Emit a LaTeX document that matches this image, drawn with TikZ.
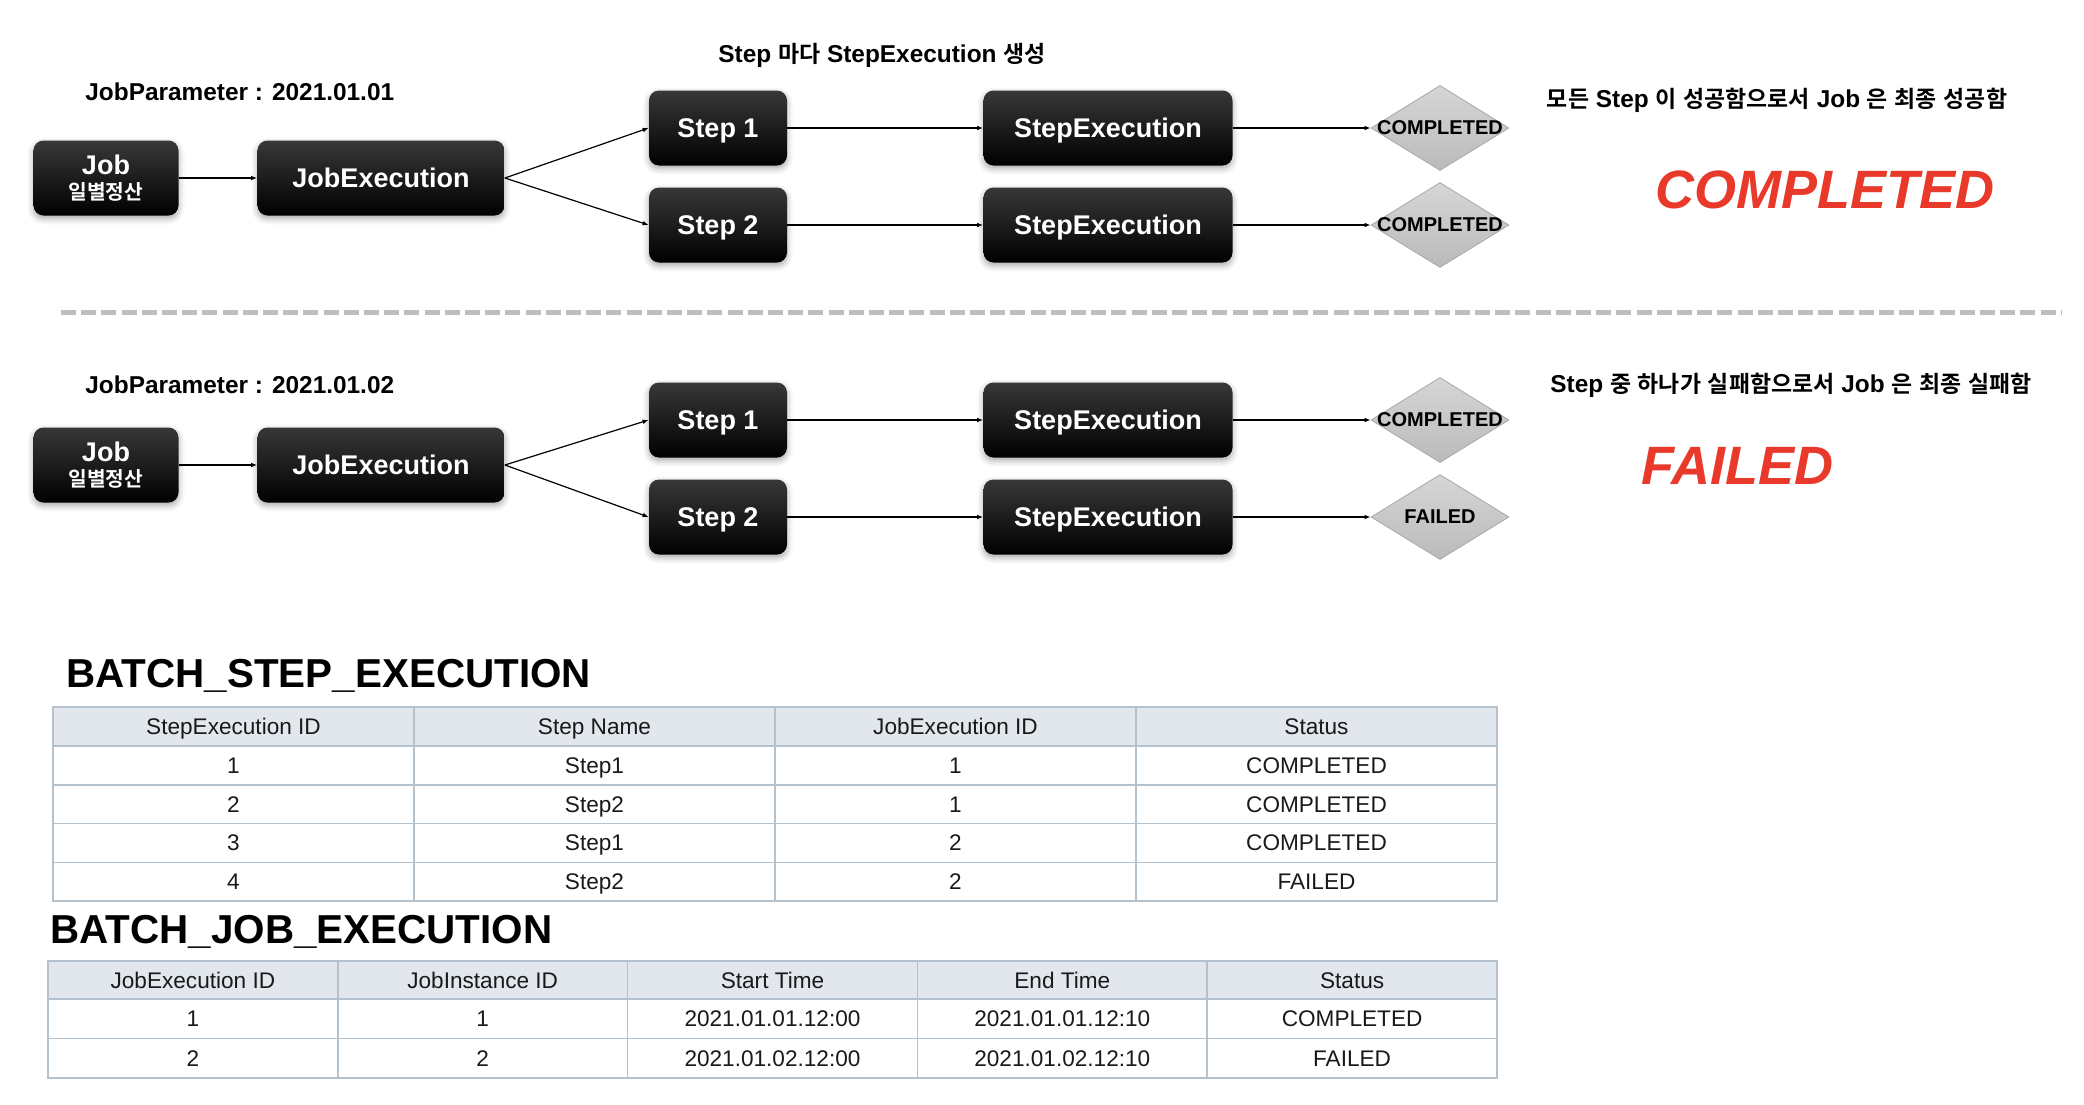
\documentclass[tikz,border=0pt]{standalone}
\usepackage{fontspec}
\setmainfont{Liberation Sans}
\newfontfamily\kr{Noto Sans CJK KR}[Scale=0.94,BoldFont={Noto Sans CJK KR Bold}]
\usetikzlibrary{arrows.meta}
\usetikzlibrary{shapes.geometric}
\usetikzlibrary{shadows.blur}

\definecolor{redtxt}{HTML}{E8392A}
\definecolor{hdrfill}{HTML}{E1E7EC}
\definecolor{gridline}{HTML}{B3C2CD}
\definecolor{sepgray}{HTML}{BEBEBE}
\definecolor{dmdline}{HTML}{A8A8A8}

\newcommand{\ko}[1]{{\kr\bfseries #1}}

\tikzset{
  blackbox/.style={rectangle, rounded corners=5pt, draw=none, inner sep=0pt,
    top color=black!78, middle color=black, bottom color=black, text=white,
    font=\bfseries\fontsize{13.5}{12.5}\selectfont, align=center,
    minimum height=37.5pt,
    blur shadow={shadow xshift=0pt, shadow yshift=-1.5pt, shadow blur radius=3pt, shadow opacity=35}},
  onebox/.style={blackbox, text height=9.7pt, text depth=0pt},
  statusdmd/.style={diamond, minimum width=69pt, minimum height=42.5pt, inner sep=0pt,
    draw=dmdline, line width=0.4pt, top color=black!16, bottom color=black!27,
    label={[font=\bfseries\fontsize{10}{12}\selectfont]center:#1}},
  caption/.style={font=\bfseries\fontsize{12.2}{14}\selectfont, inner sep=0pt},
  bigred/.style={font=\bfseries\itshape\fontsize{27}{30}\selectfont, text=redtxt, inner sep=0pt},
  tabletitle/.style={font=\bfseries\fontsize{20.2}{22}\selectfont, inner sep=0pt},
  cell/.style={font=\fontsize{11.3}{13}\selectfont, text=black!90, inner sep=0pt,
    text height=8.1pt, text depth=0pt},
  flow/.style={line width=0.6pt, -{Latex[length=3pt,width=2.4pt]}}
}

\begin{document}
\begin{tikzpicture}[x=0.5pt, y=-0.5pt]
  \useasboundingbox (0,0) rectangle (2084,1104);

  % Run 1
  \node[caption] (title) at (882,55) {Step \ko{마다} StepExecution \ko{생성}};
  \node[caption, anchor=west] (param1) at (85,92) {JobParameter : 2021.01.01};
  \node[blackbox, minimum width=72.5pt] (job1) at (106,178) {Job\\{\kr\fontsize{10.8}{10}\selectfont 일별정산}};
  \node[onebox, minimum width=123.5pt] (jexec1) at (381,178) {JobExecution};
  \node[onebox, minimum width=69pt] (step1a) at (718,128) {Step 1};
  \node[onebox, minimum width=69pt] (step1b) at (718,225) {Step 2};
  \node[onebox, minimum width=124.5pt] (sexec1a) at (1108,128) {StepExecution};
  \node[onebox, minimum width=124.5pt] (sexec1b) at (1108,225) {StepExecution};
  \node[statusdmd=COMPLETED] (stat1a) at (1440,128) {};
  \node[statusdmd=COMPLETED] (stat1b) at (1440,225) {};
  \node[caption] (note1) at (1777,100) {\ko{모든} Step \ko{이} \ko{성공함으로서} Job \ko{은} \ko{최종} \ko{성공함}};
  \node[bigred] (result1) at (1825,190) {COMPLETED};

  \draw[flow] (job1) -- (jexec1);
  \draw[flow] (jexec1.east) -- (step1a.west);
  \draw[flow] (jexec1.east) -- (step1b.west);
  \draw[flow] (step1a) -- (sexec1a);
  \draw[flow] (step1b) -- (sexec1b);
  \draw[flow] (sexec1a) -- (stat1a);
  \draw[flow] (sexec1b) -- (stat1b);

  % Separator
  \coordinate (sepl) at (61,312);
  \coordinate (sepr) at (2062,312);
  \draw[sepgray, line width=2.5pt, dash pattern=on 7.5pt off 2.6pt] (sepl) -- (sepr);

  % Run 2
  \node[caption, anchor=west] (param2) at (85,385) {JobParameter : 2021.01.02};
  \node[blackbox, minimum width=72.5pt] (job2) at (106,465) {Job\\{\kr\fontsize{10.8}{10}\selectfont 일별정산}};
  \node[onebox, minimum width=123.5pt] (jexec2) at (381,465) {JobExecution};
  \node[onebox, minimum width=69pt] (step2a) at (718,420) {Step 1};
  \node[onebox, minimum width=69pt] (step2b) at (718,517) {Step 2};
  \node[onebox, minimum width=124.5pt] (sexec2a) at (1108,420) {StepExecution};
  \node[onebox, minimum width=124.5pt] (sexec2b) at (1108,517) {StepExecution};
  \node[statusdmd=COMPLETED] (stat2a) at (1440,420) {};
  \node[statusdmd=FAILED] (stat2b) at (1440,517) {};
  \node[caption] (note2) at (1791,385) {Step \ko{중} \ko{하나가} \ko{실패함으로서} Job \ko{은} \ko{최종} \ko{실패함}};
  \node[bigred] (result2) at (1737,466) {FAILED};

  \draw[flow] (job2) -- (jexec2);
  \draw[flow] (jexec2.east) -- (step2a.west);
  \draw[flow] (jexec2.east) -- (step2b.west);
  \draw[flow] (step2a) -- (sexec2a);
  \draw[flow] (step2b) -- (sexec2b);
  \draw[flow] (sexec2a) -- (stat2a);
  \draw[flow] (sexec2b) -- (stat2b);

  % BATCH_STEP_EXECUTION
  \node[tabletitle, anchor=base west] (steptitle) at (66,687) {BATCH\_STEP\_EXECUTION};
  \fill[hdrfill] (53,707) rectangle (1497,746);
  \draw[gridline, line width=0.75pt] (53,707) rectangle (1497,901);
  \foreach \y in {746,784.75,823.5,862.25}
    \draw[gridline, line width=0.75pt] (53,\y) -- (1497,\y);
  \foreach \x in {414,775,1136}
    \draw[gridline, line width=0.75pt] (\x,707) -- (\x,901);
  \foreach \c/\t in {1/StepExecution ID, 2/Step Name, 3/JobExecution ID, 4/Status}
    \node[cell] (sh\c) at ({53+361*(\c-0.5)},726.5) {\t};
  \foreach \r/\a/\b/\c/\d in {1/1/Step1/1/COMPLETED, 2/2/Step2/1/COMPLETED, 3/3/Step1/2/COMPLETED, 4/4/Step2/2/FAILED} {
    \node[cell] (s\r-1) at (233.5,{746+38.75*(\r-0.5)}) {\a};
    \node[cell] (s\r-2) at (594.5,{746+38.75*(\r-0.5)}) {\b};
    \node[cell] (s\r-3) at (955.5,{746+38.75*(\r-0.5)}) {\c};
    \node[cell] (s\r-4) at (1316.5,{746+38.75*(\r-0.5)}) {\d};
  }

  % BATCH_JOB_EXECUTION
  \node[tabletitle, anchor=base west] (jobtitle) at (50,943) {BATCH\_JOB\_EXECUTION};
  \fill[hdrfill] (48,961) rectangle (1497,999);
  \draw[gridline, line width=0.75pt] (48,961) rectangle (1497,1078);
  \foreach \y in {999,1038.5}
    \draw[gridline, line width=0.75pt] (48,\y) -- (1497,\y);
  \foreach \x in {337.8,627.6,917.4,1207.2}
    \draw[gridline, line width=0.75pt] (\x,961) -- (\x,1078);
  \foreach \c/\t in {1/JobExecution ID, 2/JobInstance ID, 3/Start Time, 4/End Time, 5/Status}
    \node[cell] (jh\c) at ({48+289.8*(\c-0.5)},980) {\t};
  \foreach \r/\a/\b/\c/\d/\e in {1/1/1/2021.01.01.12:00/2021.01.01.12:10/COMPLETED, 2/2/2/2021.01.02.12:00/2021.01.02.12:10/FAILED} {
    \node[cell] (j\r-1) at (192.9,{999+39.5*(\r-0.5)}) {\a};
    \node[cell] (j\r-2) at (482.7,{999+39.5*(\r-0.5)}) {\b};
    \node[cell] (j\r-3) at (772.5,{999+39.5*(\r-0.5)}) {\c};
    \node[cell] (j\r-4) at (1062.3,{999+39.5*(\r-0.5)}) {\d};
    \node[cell] (j\r-5) at (1352.1,{999+39.5*(\r-0.5)}) {\e};
  }
\end{tikzpicture}
\end{document}
